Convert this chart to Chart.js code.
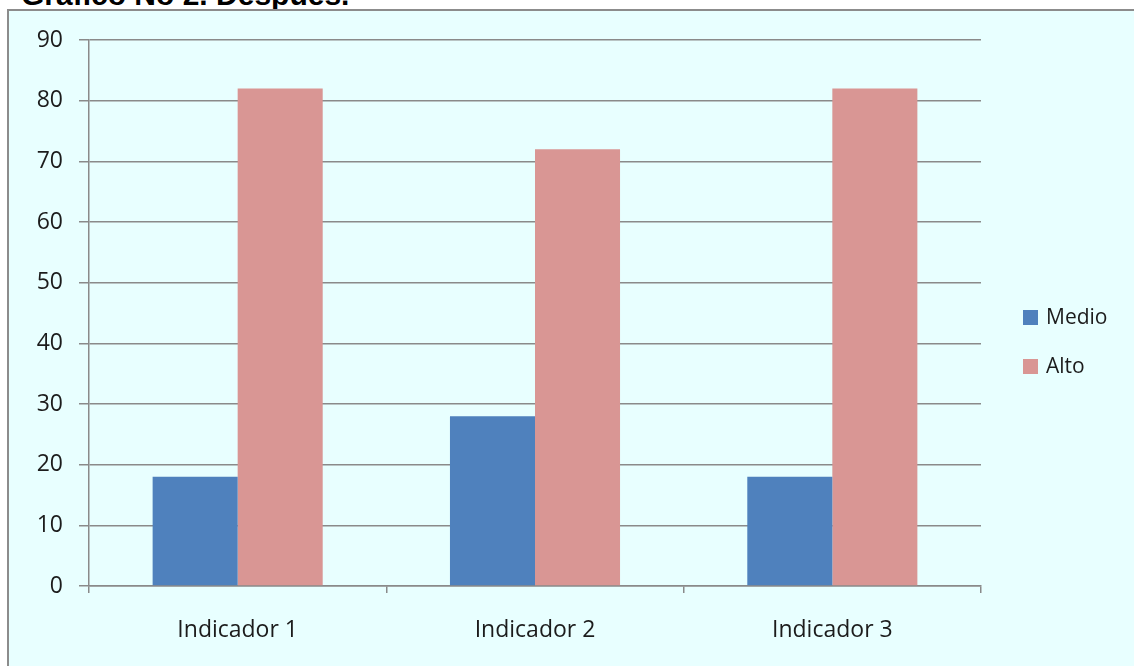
<!DOCTYPE html>
<html lang="es">
<head>
<meta charset="utf-8">
<title>Gráfico No 2. Después.</title>
<script src="https://cdn.jsdelivr.net/npm/chart.js@4.4.1/dist/chart.umd.min.js"></script>
<style>
  html, body { margin: 0; padding: 0; background: #ffffff; overflow: hidden; }
  body { width: 1134px; height: 666px; position: relative; }
  #titulo {
    position: absolute; left: 21px; top: -20px;
    font: bold 30px "Liberation Sans", Arial, sans-serif; line-height: 30px;
    color: #000; white-space: nowrap;
  }
  #marco {
    position: absolute; left: 7px; top: 9px; width: 1160px; height: 700px;
    border: 2px solid #8c8c8c; background: #e8ffff; box-sizing: border-box;
  }
  #lienzo { position: absolute; left: 0; top: 0; }
</style>
</head>
<body>
<div id="titulo">Gráfico No 2. Después.</div>
<div id="marco"></div>
<canvas id="lienzo" width="1134" height="666"></canvas>
<script>
// Categorías y valores (%) por nivel
const categorias = ['Indicador 1', 'Indicador 2', 'Indicador 3'];
const medio = [18, 28, 18];
const alto = [82, 72, 82];
const marcasEjeY = [0, 10, 20, 30, 40, 50, 60, 70, 80, 90];

const GRIS = '#8a8a8a';
const TEXTO = '#1c1c1c';
const FUENTE = '"Open Sans", "Liberation Sans", sans-serif';

// Leyenda vertical a la derecha, dibujada con los colores de cada serie
const leyendaDerecha = {
  id: 'leyendaDerecha',
  afterDraw(chart) {
    const ctx = chart.ctx;
    ctx.save();
    ctx.font = '21px ' + FUENTE;
    ctx.textBaseline = 'middle';
    ctx.textAlign = 'left';
    chart.data.datasets.forEach((ds, i) => {
      const y = 310 + i * 49;
      ctx.fillStyle = ds.backgroundColor;
      ctx.fillRect(1023, y, 15, 15);
      ctx.fillStyle = TEXTO;
      ctx.fillText(ds.label, 1046, y + 8);
    });
    ctx.restore();
  }
};

new Chart(document.getElementById('lienzo'), {
  type: 'bar',
  data: {
    labels: categorias,
    datasets: [
      { label: 'Medio', data: medio, backgroundColor: '#4f81bd' },
      { label: 'Alto', data: alto, backgroundColor: '#d99694' }
    ]
  },
  options: {
    responsive: false,
    animation: false,
    layout: { padding: { left: 0, right: 153, top: 40, bottom: 0 } },
    datasets: { bar: { categoryPercentage: 0.572, barPercentage: 1.0 } },
    plugins: { legend: { display: false }, tooltip: { enabled: false } },
    scales: {
      x: {
        afterFit(s) { s.height = 80; },
        grid: { display: true, drawOnChartArea: false, offset: true, tickLength: 7, color: GRIS, lineWidth: 1.5 },
        border: { display: true, color: GRIS, width: 1.5 },
        ticks: { color: TEXTO, font: { family: FUENTE, size: 23 }, padding: 24, maxRotation: 0 }
      },
      y: {
        min: 0, max: 90,
        afterFit(s) { s.width = 89; },
        afterBuildTicks(s) { s.ticks = marcasEjeY.map(v => ({ value: v })); },
        grid: { color: GRIS, lineWidth: 1.5, tickLength: 10 },
        border: { display: true, color: GRIS, width: 1.5 },
        ticks: { color: TEXTO, font: { family: FUENTE, size: 23 }, padding: 16 }
      }
    }
  },
  plugins: [leyendaDerecha]
});
</script>
</body>
</html>
